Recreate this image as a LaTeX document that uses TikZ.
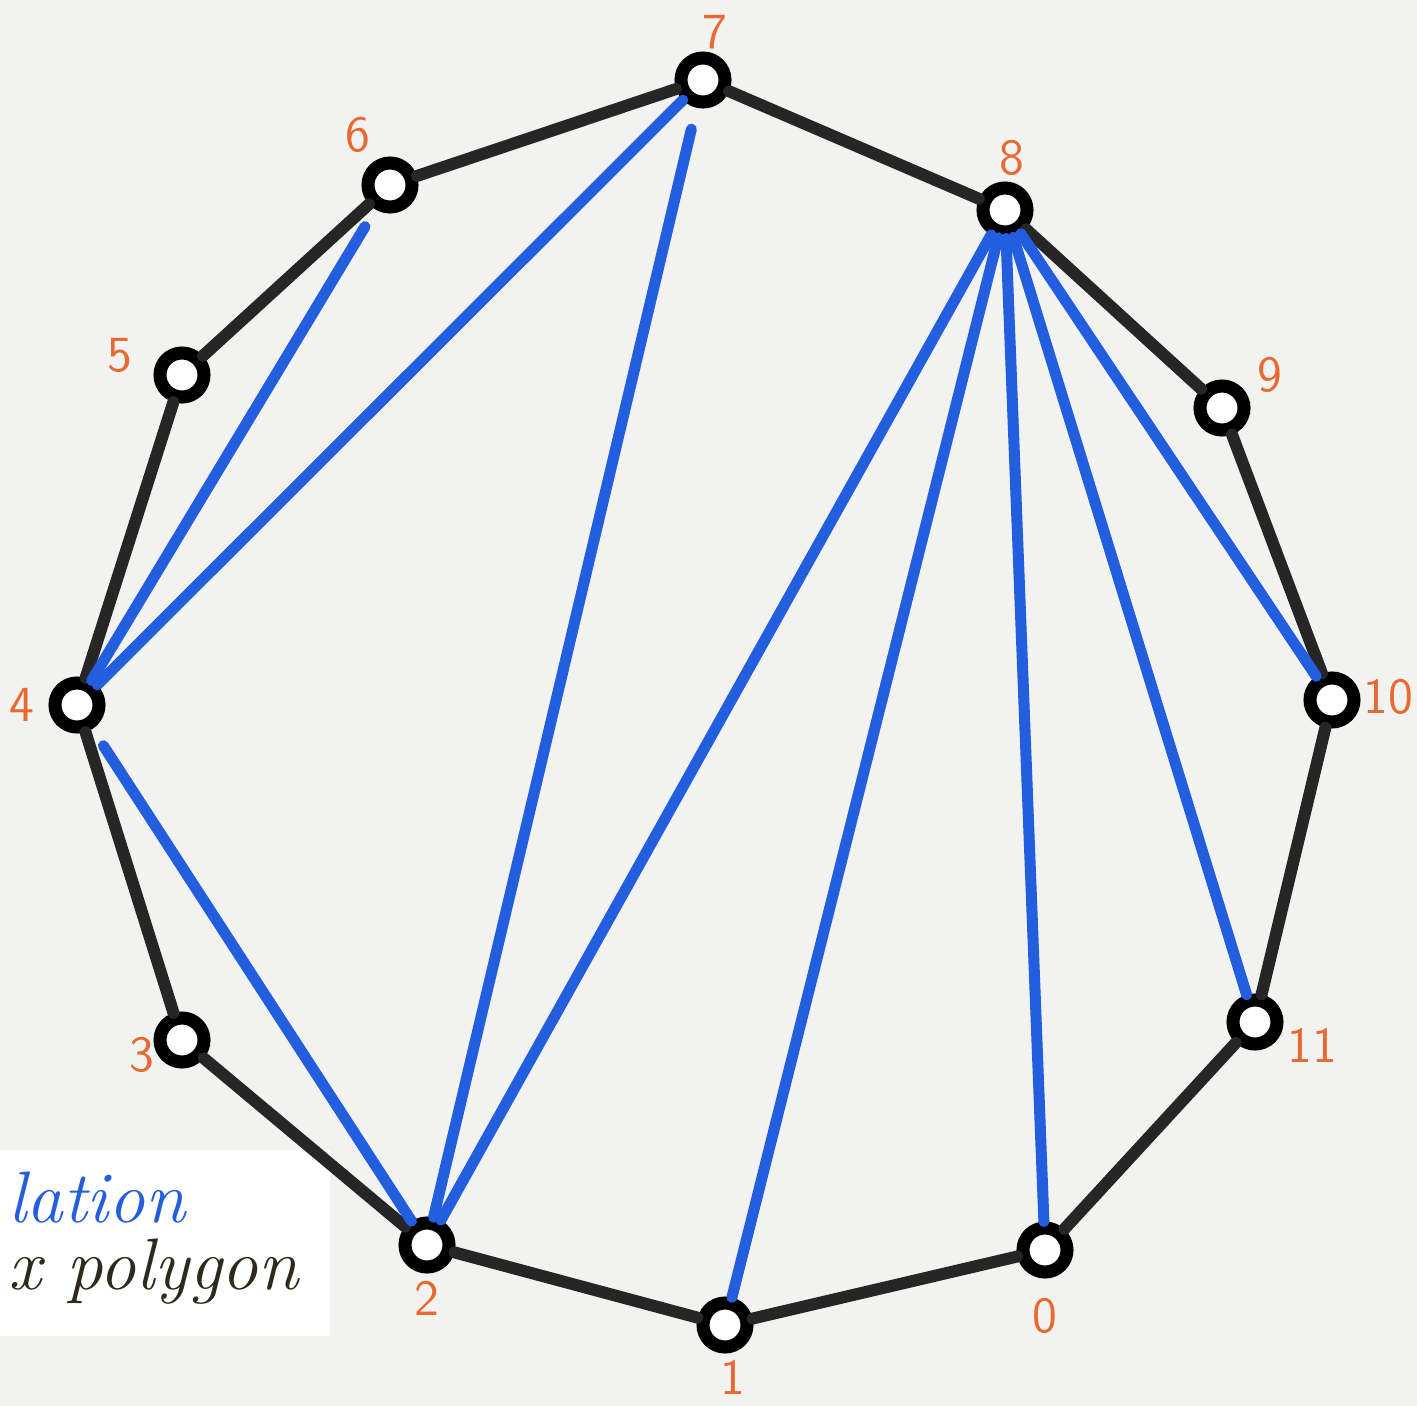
\documentclass[tikz,border=0pt]{standalone}
\usepackage{tikz}
\usetikzlibrary{calc}
\definecolor{paper}{RGB}{242,242,241}
\definecolor{chordblue}{RGB}{34,94,222}
\definecolor{labelorange}{RGB}{232,106,50}
\definecolor{inkdark}{RGB}{45,42,28}

\begin{document}
\begin{tikzpicture}[x=0.01cm, y=-0.01cm,
    vtx/.style={circle, draw=black, line width=0.13cm, fill=white,
      minimum size=0.44cm, inner sep=0pt},
    side/.style={line width=0.12cm, draw=black!85, line cap=round},
    chord/.style={line width=0.11cm, draw=chordblue, line cap=round},
    lbl/.style={font=\sffamily\Large, text=labelorange}]
          \useasboundingbox (0,0) rectangle (1417,1406);
          \fill[paper] (0,0) rectangle (1417,1406);
          \fill[white] (0,1150) rectangle (330,1336);
          \node[font=\itshape\huge, text=chordblue, anchor=west]
            (title1) at (-4,1198) {lation};
          \node[font=\itshape\huge, text=inkdark, anchor=west]
            (title2) at (-4,1272) {x polygon};
          % vertices of the polygon
          \node[vtx] (v0)  at (1045,1250) {};
          \node[vtx] (v1)  at (725,1325) {};
          \node[vtx] (v2)  at (427,1245) {};
          \node[vtx] (v3)  at (182,1040) {};
          \node[vtx] (v4)  at (77,705) {};
          \node[vtx] (v5)  at (182,375) {};
          \node[vtx] (v6)  at (390,185) {};
          \node[vtx] (v7)  at (703,80) {};
          \node[vtx] (v8)  at (1005,210) {};
          \node[vtx] (v9)  at (1222,408) {};
          \node[vtx] (v10) at (1332,700) {};
          \node[vtx] (v11) at (1255,1022) {};
          % sides
          \foreach \a/\b in {0/1, 1/2, 2/3, 3/4, 4/5, 5/6, 6/7, 7/8, 8/9, 9/10, 10/11, 11/0}
            \draw[side] (v\a) -- (v\b);
          % diagonals
          \draw[chord, shorten >=0.2cm] (v4) -- (v6);
          \draw[chord] (v4) -- (v7);
          \draw[chord, shorten >=0.22cm] (v2) -- (v7);
          \draw[chord, shorten >=0.2cm] (v2) -- (v4);
          \foreach \k in {2, 1, 0, 11, 10}
            \draw[chord] (v8) -- (v\k);
          % labels
          \node[lbl] (l0)  at (1045,1316) {0};
          \node[lbl] (l1)  at (733,1377) {1};
          \node[lbl] (l2)  at (427,1298) {2};
          \node[lbl] (l3)  at (142,1055) {3};
          \node[lbl] (l4)  at (22,705) {4};
          \node[lbl] (l5)  at (120,355) {5};
          \node[lbl] (l6)  at (358,135) {6};
          \node[lbl] (l7)  at (715,32) {7};
          \node[lbl] (l8)  at (1012,158) {8};
          \node[lbl] (l9)  at (1270,375) {9};
          \node[lbl] (l10) at (1388,697) {10};
          \node[lbl] (l11) at (1312,1045) {11};
\end{tikzpicture}
\end{document}
